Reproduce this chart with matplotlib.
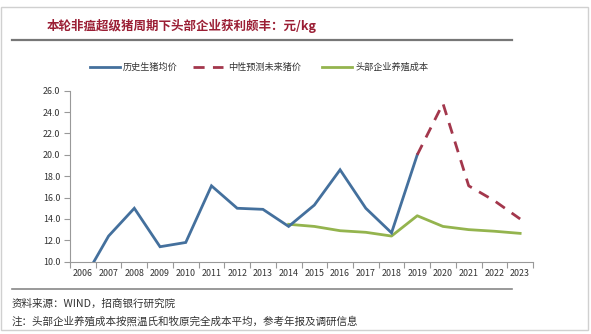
import matplotlib
matplotlib.use("Agg")
import matplotlib.pyplot as plt
from matplotlib.patches import Rectangle
from matplotlib.lines import Line2D

plt.rcParams['font.family'] = ['Noto Sans CJK SC', 'DejaVu Sans']

years = [str(y) for y in range(2006, 2024)]
hist_price = [8.2, 12.4, 15.0, 11.4, 11.8, 17.1, 15.0, 14.9, 13.3, 15.3, 18.6, 15.0, 12.7, 20.0]
forecast_years_idx = [13, 14, 15, 16, 17]
forecast_price = [20.0, 24.8, 17.1, 15.7, 14.0]
cost_years_idx = [8, 9, 10, 11, 12, 13, 14, 15, 16, 17]
cost = [13.5, 13.3, 12.9, 12.75, 12.4, 14.3, 13.3, 13.0, 12.85, 12.65]
yticks = [10.0, 12.0, 14.0, 16.0, 18.0, 20.0, 22.0, 24.0, 26.0]

title = "本轮非瘟超级猪周期下头部企业获利颇丰：元/kg"
labels = ["历史生猪均价", "中性预测未来猪价", "头部企业养殖成本"]
source = "资料来源：WIND，招商银行研究院"
note = "注：头部企业养殖成本按照温氏和牧原完全成本平均，参考年报及调研信息"

W, H = 591, 334
fig = plt.figure(figsize=(W / 100, H / 100), dpi=100)

def fx(x):
    return x / W

def fy(y):
    return 1 - y / H

# outer border
fig.patches.append(Rectangle((fx(1), fy(330)), fx(587), (329 - 6) / H, transform=fig.transFigure,
                             fill=False, edgecolor="#d0d0d0", linewidth=1))

blue = "#44709d"
red = "#a3374c"
green = "#94b44e"
dash = (0, (4, 3))

ax = fig.add_axes([fx(70), fy(261.7), fx(533 - 70), (261.7 - 90.7) / H])
xi = list(range(len(years)))
ax.plot(xi[:len(hist_price)], hist_price, color=blue, lw=2.0, solid_joinstyle="miter", zorder=3)
ax.plot(forecast_years_idx, forecast_price, color=red, lw=2.0, linestyle=dash, zorder=3)
ax.plot(cost_years_idx, cost, color=green, lw=2.0, zorder=2)

ax.set_ylim(10, 26)
ax.set_xlim(-0.5, len(years) - 0.5)
ax.set_yticks(yticks)
ax.set_yticklabels([f"{v:.1f}" for v in yticks])
ax.set_xticks(xi)
ax.set_xticklabels(years)
ax.set_xticks([i - 0.5 for i in range(len(years) + 1)], minor=True)
ax.tick_params(axis='x', which='major', length=0, pad=5, labelsize=6.4, labelcolor="#333333")
ax.tick_params(axis='x', which='minor', length=4, color="#999999", width=0.8)
ax.tick_params(axis='y', which='major', length=4, color="#999999", width=0.8, labelsize=6.4,
               labelcolor="#333333", pad=3)
for s in ["top", "right"]:
    ax.spines[s].set_visible(False)
for s in ["left", "bottom"]:
    ax.spines[s].set_color("#999999")
    ax.spines[s].set_linewidth(0.8)

# title
fig.text(fx(47), fy(26), title, color="#9b1f35", fontsize=9.0, fontweight="bold", va="center", ha="left")
fig.add_artist(Line2D([fx(12), fx(512)], [fy(40), fy(40)], color="#777777", lw=1.6, transform=fig.transFigure))

# legend
ly = fy(67)
fig.add_artist(Line2D([fx(90), fx(120)], [ly, ly], color=blue, lw=2.0, transform=fig.transFigure))
fig.text(fx(123), ly, labels[0], fontsize=6.6, color="#333333", va="center", ha="left")
fig.add_artist(Line2D([fx(193), fx(223)], [ly, ly], color=red, lw=2.0, linestyle=dash,
                       transform=fig.transFigure))
fig.text(fx(228), ly, labels[1], fontsize=6.6, color="#333333", va="center", ha="left")
fig.add_artist(Line2D([fx(322), fx(352)], [ly, ly], color=green, lw=2.0, transform=fig.transFigure))
fig.text(fx(355), ly, labels[2], fontsize=6.6, color="#333333", va="center", ha="left")

# bottom rule and notes
fig.add_artist(Line2D([fx(12), fx(512)], [fy(289), fy(289)], color="#888888", lw=1.2, transform=fig.transFigure))
fig.text(fx(12), fy(304), source, fontsize=7.6, color="#333333", va="center", ha="left")
fig.text(fx(12), fy(321), note, fontsize=7.6, color="#333333", va="center", ha="left")

fig.savefig("out.png", dpi=100, facecolor="white")
